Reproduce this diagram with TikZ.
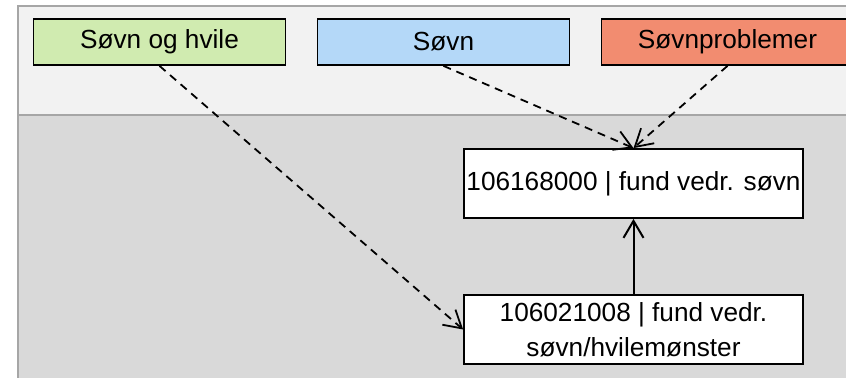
\documentclass[tikz,border=0pt]{standalone}
\usepackage{fontspec}
\setmainfont{Liberation Sans}
\usetikzlibrary{arrows.meta}

\definecolor{hvilegreen}{HTML}{D0EBB0}
\definecolor{sovnblue}{HTML}{B4D8F8}
\definecolor{problemred}{HTML}{F28C70}
\definecolor{panellight}{HTML}{F2F2F2}
\definecolor{paneldark}{HTML}{D9D9D9}
\definecolor{panelline}{HTML}{A6A6A6}

\begin{document}
\begin{tikzpicture}[x=0.5pt,y=-0.5pt,>={Straight Barb[length=8.5pt,width=10pt]},
   node distance=142pt,font=\fontsize{13.1pt}{17.5pt}\selectfont,
   refset/.style={rectangle,draw=black,line width=0.9pt,minimum width=126pt,minimum height=23pt,inner sep=0pt},
   concept/.style={rectangle,draw=black,fill=white,line width=0.9pt,minimum width=169.5pt,minimum height=34.5pt,inner sep=0pt,align=center},
   member/.style={->,dash pattern=on 4pt off 3pt,line width=0.9pt},
   isa/.style={->,line width=1pt}]
   \useasboundingbox (0,0) rectangle (846,378);
   \clip (0,0) rectangle (846,378);
   \draw[panelline,fill=panellight,line width=0.9pt] (18,6) rectangle (880,115);
   \draw[panelline,fill=paneldark,line width=0.9pt] (18,115) rectangle (880,400);

   \node[refset,fill=hvilegreen] (hvile) at (159.5,42) {Søvn og hvile};
   \node[refset,fill=sovnblue]   (sovn)    [right of=hvile] {Søvn};
   \node[refset,fill=problemred] (problem) [right of=sovn]  {Søvnproblemer};

   \node[concept] (fund) at (633.5,183.5) {106168000 | fund vedr. søvn};
   \node[concept] (monster) [below of=fund,node distance=73pt] {106021008 | fund vedr.\\søvn/hvilemønster};

   \path[member] (hvile.south)   edge (monster.west)
                 (sovn.south)    edge (fund.north)
                 (problem.south) edge (fund.north);
   \path[isa] (monster) edge (fund);
\end{tikzpicture}
\end{document}
